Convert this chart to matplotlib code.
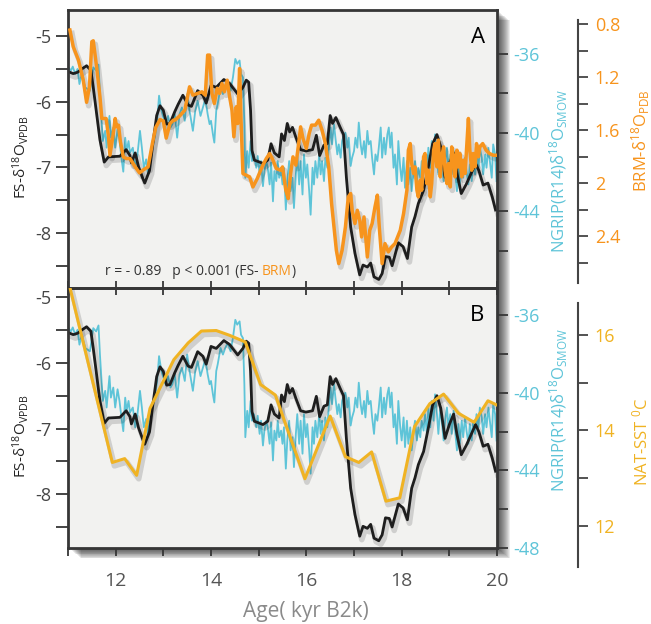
import matplotlib

matplotlib.use("Agg")
import matplotlib.patheffects as pe
import matplotlib.pyplot as plt
from matplotlib.patches import Rectangle
from matplotlib.ticker import FixedLocator, MultipleLocator

plt.rcParams["font.family"] = ["Open Sans", "DejaVu Sans"]
plt.rcParams["mathtext.fontset"] = "custom"
plt.rcParams["mathtext.rm"] = "Open Sans"
plt.rcParams["mathtext.it"] = "Open Sans:italic"
plt.rcParams["mathtext.bf"] = "Open Sans:bold"
plt.rcParams["axes.unicode_minus"] = False

# ---- data ----
# FS speleothem d18O (black, both panels)
fs_age = [11.04, 11.11, 11.2, 11.29, 11.39, 11.48, 11.53, 11.6, 11.67, 11.76, 11.85, 12.09,
          12.22, 12.3, 12.33, 12.41, 12.48, 12.57, 12.61, 12.71, 12.78, 12.86, 12.93, 13.0,
          13.07, 13.14, 13.24, 13.31, 13.41, 13.52, 13.59, 13.72, 13.83, 13.9, 14.0, 14.11,
          14.27, 14.39, 14.56, 14.67, 14.74, 14.79, 14.83, 14.86, 14.91, 15.02, 15.09, 15.19,
          15.26, 15.33, 15.43, 15.48, 15.54, 15.6, 15.65, 15.71, 15.78, 15.88, 15.99, 16.13,
          16.21, 16.28, 16.37, 16.44, 16.5, 16.55, 16.62, 16.71, 16.78, 16.84, 16.93, 17.02,
          17.12, 17.19, 17.28, 17.35, 17.42, 17.52, 17.59, 17.66, 17.74, 17.8, 17.93, 18.03,
          18.12, 18.21, 18.28, 18.35, 18.46, 18.56, 18.65, 18.74, 18.82, 18.91, 19.0, 19.09,
          19.16, 19.25, 19.36, 19.44, 19.55, 19.62, 19.71, 19.81, 19.9, 19.97]
fs_d18o = [-5.55, -5.57, -5.55, -5.50, -5.45, -5.52, -5.78, -6.18, -6.58, -6.92, -6.84, -6.83,
           -6.73, -6.82, -6.93, -6.78, -6.99, -7.17, -7.24, -7.05, -6.64, -6.21, -6.06, -6.13,
           -6.34, -6.33, -6.15, -6.04, -5.90, -6.05, -6.07, -5.83, -5.90, -6.02, -5.75, -5.78,
           -5.66, -5.72, -5.88, -5.78, -5.67, -5.70, -6.13, -6.74, -6.89, -6.92, -6.94, -6.89,
           -6.64, -6.78, -6.84, -6.49, -6.59, -6.33, -6.46, -6.39, -6.54, -6.73, -6.75, -6.73,
           -6.51, -6.82, -6.66, -6.64, -6.21, -6.33, -6.24, -6.39, -6.50, -7.15, -7.91, -8.31,
           -8.64, -8.49, -8.52, -8.46, -8.67, -8.71, -8.62, -8.36, -8.37, -8.50, -8.15, -8.21,
           -8.39, -7.91, -7.75, -7.55, -7.35, -6.99, -6.64, -6.50, -6.69, -7.15, -6.94, -6.78,
           -7.09, -7.40, -7.25, -7.12, -6.94, -7.05, -7.27, -7.24, -7.45, -7.65]

# NGRIP ice core d18O (cyan, both panels)
ngrip_age = [11.01, 11.06, 11.10, 11.15, 11.20, 11.24, 11.29, 11.36, 11.46, 11.53, 11.59, 11.64,
             11.67, 11.73, 11.78, 11.81, 11.87, 11.90, 11.95, 11.99, 12.04, 12.08, 12.13, 12.16,
             12.20, 12.23, 12.27, 12.30, 12.36, 12.41, 12.45, 12.51, 12.55, 12.59, 12.64, 12.68,
             12.72, 12.78, 12.82, 12.87, 12.91, 12.96, 13.00, 13.05, 13.10, 13.15, 13.19,
             13.24, 13.29, 13.34, 13.39, 13.45, 13.50, 13.55, 13.62, 13.67, 13.72, 13.78, 13.83,
             13.88, 13.93, 13.97, 14.00, 14.04, 14.07, 14.11, 14.14, 14.20, 14.25, 14.30, 14.35,
             14.41, 14.46, 14.51, 14.55, 14.60, 14.63, 14.67, 14.70, 14.72, 14.76, 14.79, 14.83,
             14.86, 14.90, 14.95, 14.98, 15.02, 15.05, 15.09, 15.12, 15.16, 15.19, 15.23, 15.26,
             15.30, 15.33, 15.37, 15.40, 15.43, 15.47,
             15.50, 15.53, 15.57, 15.60, 15.64, 15.67, 15.71, 15.74, 15.78, 15.81, 15.85, 15.88,
             15.92, 15.95, 15.99, 16.02, 16.06, 16.09, 16.13, 16.16, 16.19, 16.23, 16.27, 16.30,
             16.33, 16.37, 16.40, 16.44, 16.47, 16.51, 16.54, 16.58, 16.61, 16.65, 16.68, 16.72,
             16.75, 16.79, 16.82, 16.86, 16.89, 16.93, 16.96, 17.00, 17.03, 17.07, 17.10, 17.14,
             17.17, 17.21, 17.24, 17.28, 17.31, 17.35, 17.38, 17.42, 17.45, 17.49, 17.52, 17.56,
             17.59, 17.63, 17.66, 17.70, 17.73,
             17.76, 17.79, 17.83, 17.86, 17.90, 17.93, 17.97, 18.00, 18.04, 18.07, 18.11, 18.14,
             18.18, 18.21, 18.25, 18.28, 18.32, 18.35, 18.39, 18.42, 18.46, 18.49, 18.53, 18.56,
             18.60, 18.63, 18.67, 18.70, 18.74, 18.77, 18.81, 18.84, 18.88, 18.91, 18.95, 18.98,
             19.02, 19.05, 19.09, 19.12, 19.16, 19.19, 19.22, 19.26, 19.29, 19.33, 19.36, 19.40,
             19.43, 19.47, 19.50, 19.54, 19.57, 19.61, 19.64, 19.68, 19.71, 19.75, 19.78, 19.82,
             19.85, 19.89, 19.92, 19.96, 19.99]
ngrip_d18o = [-36.67, -36.84, -36.63, -37.01, -36.75, -37.52, -37.01, -37.69, -37.86, -36.67,
              -36.84, -36.53, -38.03, -40.42, -39.90, -40.76, -39.14, -40.25, -39.73, -40.76,
              -39.82, -40.42, -41.44, -41.98, -40.25, -40.93, -40.42, -41.01, -40.76, -41.78,
              -41.27, -39.90, -40.76, -41.78, -41.35, -42.12, -41.10, -40.59, -40.25, -39.39,
              -38.11, -38.88, -39.22, -39.56, -39.14, -39.73, -39.56,
              -39.05, -40.25, -39.05, -38.71, -39.39, -38.03, -38.88, -39.90, -38.88, -38.37,
              -39.14, -38.71, -38.28, -39.05, -39.56, -39.39, -40.08, -40.50, -38.88, -38.54,
              -37.69, -38.03, -37.69, -37.43, -37.86, -37.18, -36.24, -36.49, -36.32, -37.01,
              -37.18, -39.56, -42.29, -40.93, -41.78, -40.42, -41.44, -41.10, -41.78, -41.18,
              -42.12, -41.44, -42.72, -41.95, -41.44, -41.78, -42.63, -41.52, -43.49, -41.95,
              -42.46, -41.44, -42.29, -41.95,
              -42.63, -41.78, -43.91, -42.46, -41.44, -42.97, -42.29, -43.83, -42.12, -41.10,
              -42.63, -41.44, -43.14, -41.10, -42.29, -41.61, -42.97, -44.17, -41.78, -42.63,
              -41.44, -42.29, -41.10, -42.12, -41.44, -42.46, -41.27, -41.78, -40.76, -39.73,
              -40.59, -39.56, -40.25, -41.10, -40.59, -41.27, -40.42, -40.08, -40.00, -40.76,
              -40.25, -41.69, -41.27, -40.93, -40.25, -40.76, -39.48, -40.59, -41.10, -40.42,
              -41.27, -39.90, -40.59, -40.42, -41.27, -42.12, -41.10, -41.44, -40.76, -39.73,
              -41.27, -40.25, -41.10, -40.08, -39.73,
              -40.76, -39.99, -41.78, -41.10, -42.63, -40.42, -41.78, -42.46, -41.27, -42.80,
              -41.44, -42.63, -41.78, -42.97, -41.95, -41.44, -42.46, -41.78, -42.29, -41.44,
              -41.95, -41.10, -42.12, -40.76, -41.78, -40.42, -41.44, -40.08, -41.10, -42.12,
              -40.76, -41.44, -42.46, -41.44, -40.76, -41.78, -41.10, -42.12, -40.93, -41.95,
              -42.97, -41.61, -42.63, -41.44, -42.29, -41.27, -41.95, -42.63, -41.61, -42.46,
              -41.44, -42.12, -41.10, -41.78, -40.76, -41.27, -42.12, -41.10, -41.78, -40.76,
              -41.44, -42.29, -40.59, -41.10, -42.46]

# BRM d18O (orange, panel A)
brm_age = [11.04, 11.11, 11.22, 11.32, 11.39, 11.45, 11.50, 11.53, 11.60, 11.67, 11.71, 11.80,
           11.85, 11.88, 11.94, 11.99, 12.02, 12.06, 12.10, 12.16, 12.22, 12.30, 12.41, 12.50,
           12.59, 12.68, 12.77, 12.84, 12.93, 13.00, 13.06, 13.14, 13.21,
           13.24, 13.34, 13.45, 13.55, 13.62, 13.72, 13.81, 13.88, 13.93, 13.97, 14.02, 14.07,
           14.13, 14.18, 14.23, 14.28, 14.34, 14.39, 14.44, 14.48, 14.53, 14.56, 14.60, 14.63,
           14.67, 14.74, 14.81, 14.88, 14.97, 15.07, 15.16, 15.23, 15.30, 15.37, 15.46,
           15.50, 15.57, 15.62, 15.67, 15.72, 15.78, 15.83, 15.88, 15.93, 16.00, 16.06, 16.11,
           16.19, 16.26, 16.33, 16.40, 16.47, 16.53, 16.58, 16.63, 16.68, 16.75, 16.82, 16.88,
           16.93, 16.96, 17.02, 17.07, 17.12, 17.16, 17.21, 17.28, 17.33, 17.38, 17.44, 17.49,
           17.53, 17.59, 17.65, 17.72,
           17.79, 17.86, 17.97, 18.04, 18.11, 18.14, 18.18, 18.21, 18.25, 18.28, 18.32, 18.35,
           18.39, 18.42, 18.46, 18.49, 18.53, 18.56, 18.60, 18.63, 18.67, 18.70, 18.74, 18.77,
           18.81, 18.84, 18.88, 18.91, 18.95, 18.98, 19.02, 19.05, 19.09, 19.12, 19.16, 19.19,
           19.22, 19.26, 19.29, 19.33, 19.36, 19.40, 19.43, 19.47, 19.50, 19.54, 19.57, 19.61,
           19.64, 19.70, 19.77, 19.84, 19.92, 19.99]
brm_d18o = [0.845, 0.971, 1.072, 1.223, 1.39, 1.273, 0.933, 0.926, 1.122, 1.348, 1.512, 1.512,
            1.650, 1.789, 1.650, 1.512, 1.575, 1.562, 1.688, 1.801, 1.814, 1.814, 1.877, 1.922,
            1.897, 1.877, 1.701, 1.58, 1.52, 1.53, 1.66, 1.550, 1.525,
            1.525, 1.494, 1.449, 1.273, 1.336, 1.323, 1.311, 1.336, 1.034, 1.034, 1.323, 1.399,
            1.285, 1.323, 1.248, 1.311, 1.223, 1.348, 1.449, 1.650, 1.424, 1.550, 1.135, 1.525,
            1.927, 1.940, 1.952, 2.028, 1.965, 1.877, 1.814, 1.776, 1.826, 1.889, 1.902,
            1.877, 2.053, 2.116, 1.927, 1.801, 1.864, 1.726, 1.575, 1.663, 1.738, 1.625, 1.562,
            1.562, 1.525, 1.600, 1.701, 1.877, 2.154, 2.330, 2.506, 2.606, 2.506, 2.330, 2.103,
            2.078, 2.204, 2.304, 2.204, 2.279, 2.405, 2.254, 2.556, 2.355, 2.304, 2.179, 2.090,
            2.330, 2.606, 2.455, 2.518,
            2.48, 2.455, 2.355, 2.229, 2.053, 1.751, 1.701, 1.852, 1.927, 1.877, 2.053, 2.103,
            1.977, 2.053, 1.801, 1.776, 2.003, 1.902, 2.103, 2.003, 1.751, 1.701, 1.877, 1.675,
            1.952, 1.801, 1.726, 1.902, 2.003, 1.852, 2.028, 1.726, 1.801, 1.952, 1.751, 1.877,
            1.776, 1.952, 1.826, 1.927, 1.751, 1.512, 1.751, 1.902, 1.776, 1.877, 1.701, 1.801,
            1.726, 1.701, 1.751, 1.776, 1.789, 1.789]

# North Atlantic SST (yellow, panel B)
sst_age = [11.05, 11.93, 12.19, 12.44, 12.72, 13.22, 13.52, 13.8, 14.11, 14.39, 14.72, 15.04,
           15.35, 15.97, 16.5, 16.82, 17.1, 17.37, 17.67, 17.96, 18.27, 18.59, 18.88, 19.19,
           19.52, 19.81, 20.0]
sst_c = [16.95, 13.33, 13.41, 13.06, 14.46, 15.48, 15.83, 16.08, 16.09, 15.99, 15.85, 14.96,
         14.74, 12.99, 14.30, 13.45, 13.33, 13.55, 12.52, 12.59, 14.08, 14.56, 14.76, 14.36,
         14.17, 14.62, 14.53]

age_ticks = [11, 12, 13, 14, 15, 16, 17, 18, 19, 20]
age_labels = ["", "12", "", "14", "", "16", "", "18", "", "20"]
brm_ticks = [0.8, 1.2, 1.6, 2.0, 2.4]
brm_labels = ["0.8", "1.2", "1.6", "2", "2.4"]

# ---- style ----
CYAN = "#5ec4d8"
ORANGE = "#f7941d"
YELLOW = "#f0b323"
BLACK = "#1e1e1e"
BG = "#f2f2f0"
FRAME = "#363636"
TICKTXT = "#454545"

W, H = 651, 624
L, R = 68, 497
A_TOP, MID, B_BOT = 10, 288, 548
OUT_X = (578 - L) / (R - L)   # position of the outer (BRM / SST) spine


def fx(px):
    return px / W


def fy(py):
    return 1 - py / H


fig = plt.figure(figsize=(W / 100, H / 100), dpi=100)

# soft drop shadow behind the two stacked panels
for k in range(1, 14):
    fig.patches.append(Rectangle((fx(L + k), fy(B_BOT + 0.8 * k)), (R - L) / W,
                                 (B_BOT - A_TOP) / H, transform=fig.transFigure,
                                 facecolor="k", edgecolor="none", alpha=0.075, zorder=-1))

shadow = [pe.SimpleLineShadow(offset=(1.5, -2.5), shadow_color="k", alpha=0.14, linewidth=4),
          pe.Normal()]


def make_panel(top, bot, fs_lim, ng_lim):
    rect = [fx(L), fy(bot), (R - L) / W, (bot - top) / H]
    ax = fig.add_axes(rect)
    ax_n = ax.twinx()
    ax_o = ax.twinx()
    ax_n.set_zorder(1)
    ax.set_zorder(2)
    ax_o.set_zorder(3)
    ax.patch.set_visible(False)
    ax_n.patch.set_visible(True)
    ax_n.patch.set_facecolor(BG)

    ax.set_xlim(11, 20)
    ax.set_ylim(*fs_lim)
    ax_n.set_ylim(*ng_lim)
    for s in ax.spines.values():
        s.set_color(FRAME)
        s.set_linewidth(2)
    for s in ax_n.spines.values():
        s.set_visible(False)
    for name, s in ax_o.spines.items():
        s.set_visible(name == "right")
    ax_o.spines["right"].set_position(("axes", OUT_X))
    ax_o.spines["right"].set_color("#444444")
    ax_o.spines["right"].set_linewidth(1.5)

    ax.set_xticks(age_ticks)
    ax.yaxis.set_major_locator(MultipleLocator(1))
    ax.yaxis.set_minor_locator(MultipleLocator(0.5))
    ax.tick_params(axis="y", which="both", direction="out", length=9, width=1.3,
                   color=FRAME, labelsize=13, labelcolor=TICKTXT, pad=3)
    ax_n.yaxis.set_major_locator(MultipleLocator(4))
    ax_n.yaxis.set_minor_locator(FixedLocator([-46, -42, -38]))
    ax_n.tick_params(axis="y", which="both", direction="out", length=8, width=1.3,
                     color=FRAME, labelsize=13, labelcolor=CYAN, pad=4)
    ax_o.tick_params(axis="y", which="both", direction="out", length=7, width=1.3,
                     color="#444444", labelsize=13, pad=5)

    ax_n.plot(ngrip_age, ngrip_d18o, color=CYAN, lw=1.3)
    ax.plot(fs_age, fs_d18o, color=BLACK, lw=2, path_effects=shadow)

    ax.text(-0.11, 0.5, "FS-δ$^{18}$O$_{\\mathrm{VPDB}}$", transform=ax.transAxes,
            rotation=90, ha="center", va="center", fontsize=11, color="#222222")
    ax.text(1.145, 0.5, "NGRIP(R14)δ$^{18}$O$_{\\mathrm{SMOW}}$", transform=ax.transAxes,
            rotation=90, ha="center", va="center", fontsize=12, color=CYAN)
    return ax, ax_n, ax_o


# ---- panel A ----
axA, axA_n, axA_o = make_panel(A_TOP, MID, (-8.84, -4.6), (-47.9, -33.75))
axA.texts[0].set_y(0.47)
axA.texts[1].set_y(0.42)
axA.tick_params(axis="x", which="both", direction="inout", length=10, width=1.3,
                color=FRAME, labelbottom=False)
axA_o.set_ylim(2.79, 0.694)
axA_o.set_yticks(brm_ticks, brm_labels)
axA_o.yaxis.set_minor_locator(FixedLocator([1.0, 1.4, 1.8, 2.2, 2.6]))
axA_o.tick_params(axis="y", which="both", labelcolor=ORANGE)
axA_o.spines["right"].set_bounds(0.77, 2.75)
axA_o.plot(brm_age, brm_d18o, color=ORANGE, lw=2.5, path_effects=shadow)
axA.text(1.336, 0.53, "BRM-δ$^{18}$O$_{\\mathrm{PDB}}$", transform=axA.transAxes,
         rotation=90, ha="center", va="center", fontsize=12, color=ORANGE)
axA.text(0.956, 0.90, "A", transform=axA.transAxes, ha="center", va="center", fontsize=16)
t = axA.text(0.086, 0.058, "r = - 0.89   p < 0.001 (FS- ", transform=axA.transAxes,
             ha="left", va="center", fontsize=10, color="#333333")
t2 = axA.annotate("BRM", xy=(1, 0.5), xycoords=t, ha="left", va="center",
                  fontsize=10, color=ORANGE)
axA.annotate(")", xy=(1, 0.5), xycoords=t2, ha="left", va="center", fontsize=10,
             color="#333333")

# ---- panel B ----
axB, axB_n, axB_o = make_panel(MID, B_BOT, (-8.82, -4.86), (-48, -34.6))
axB.texts[0].set_y(0.43)
axB.texts[1].set_y(0.53)
axB.set_xticks(age_ticks, age_labels)
axB.tick_params(axis="x", which="both", direction="out", length=6, width=1.3,
                color=FRAME, labelsize=14, labelcolor="#555555", pad=11)
axB_o.set_ylim(11.54, 16.98)
axB_o.yaxis.set_major_locator(MultipleLocator(2))
axB_o.yaxis.set_minor_locator(FixedLocator([13, 15]))
axB_o.tick_params(axis="y", which="both", labelcolor=YELLOW)
axB_o.spines["right"].set_bounds(11.14, 16.67)
axB_o.plot(sst_age, sst_c, color=YELLOW, lw=2.2, path_effects=shadow)
axB.text(1.336, 0.41, "NAT-SST $^{0}$C", transform=axB.transAxes,
         rotation=90, ha="center", va="center", fontsize=12, color=YELLOW)
axB.text(0.953, 0.896, "B", transform=axB.transAxes, ha="center", va="center", fontsize=16)

fig.text(fx(306), fy(612), "Age( kyr B2k)", ha="center", va="center", fontsize=15,
         color="#8a8a8a")

fig.savefig("out.png", dpi=100, facecolor="white")
